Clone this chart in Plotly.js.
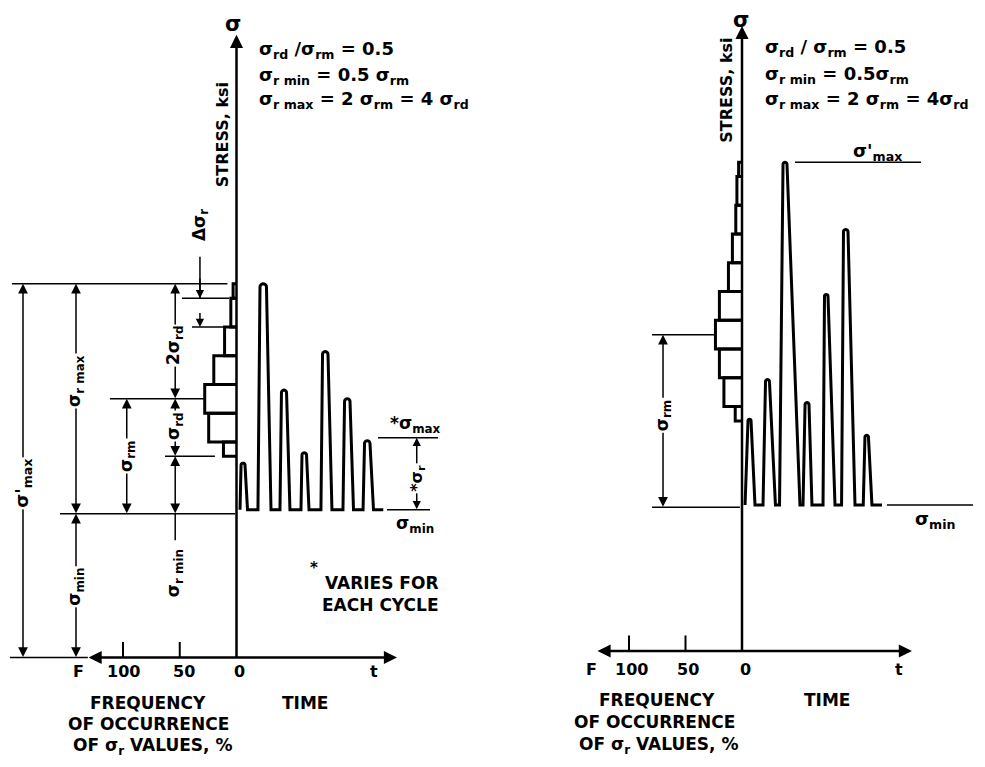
<!DOCTYPE html>
<html><head><meta charset="utf-8">
<script src="https://cdn.plot.ly/plotly-3.0.1.min.js"></script>
<style>html,body{margin:0;padding:0;background:#fff;} #chart{width:985px;height:767px;}</style>
</head><body><div id="chart"></div>
<script>
// ---------------- data (stress in ksi-like units, frequency in %, time arbitrary) ----------------
const sigmaMin = 2.5;
// Left diagram: σrd/σrm = 0.5
const leftSigmaRm = 2.0;
const leftSigmaRd = 1.0;
const leftBinLo = [1.00, 1.25, 1.75, 2.25, 2.75, 3.25, 3.75];
const leftBinHi = [1.25, 1.75, 2.25, 2.75, 3.25, 3.75, 4.00];
const leftFreq  = [11.5, 24.5, 28, 20, 10.5, 5, 3];
const leftCycleRise = [3.1, 18.9, 38.3, 56.8, 74.4, 93.8, 111.5];
const leftCycleTopL = [4.0, 20.7, 39.6, 57.7, 75.8, 95.2, 112.8];
const leftCycleTopR = [7.5, 26.4, 44.1, 61.7, 80.6, 100.0, 117.6];
const leftCycleFall = [9.7, 30.4, 47.1, 63.9, 84.1, 103.1, 120.7];
const leftCyclePeak = [3.38, 6.5, 4.65, 3.56, 5.32, 4.50, 3.77];
const leftBase = 2.57;
const leftEnd = 129.3;
// Right diagram
const rightSigmaRm = 3.0;
const rightSigmaRd = 1.5;
const rightBinLo = [1.50, 1.75, 2.25, 2.75, 3.25, 3.75, 4.25, 4.75, 5.25, 5.75];
const rightBinHi = [1.75, 2.25, 2.75, 3.25, 3.75, 4.25, 4.75, 5.25, 5.75, 6.00];
const rightFreq  = [6, 16, 20, 23.5, 20, 12, 8.5, 5.5, 4.5, 3];
const rightCycleRise = [2.7, 18.6, 33.2, 54.0, 71.7, 88.1, 107.3];
const rightCycleTopL = [5.3, 20.8, 36.3, 55.8, 73.0, 89.8, 108.8];
const rightCycleTopR = [8.0, 24.3, 39.8, 59.3, 76.1, 93.8, 111.9];
const rightCycleFall = [11.5, 29.6, 51.3, 61.9, 82.3, 100.0, 115.0];
const rightCyclePeak = [4.03, 4.72, 8.5, 4.32, 6.20, 7.33, 3.75];
const rightBase = 2.54;
const rightEnd = 123.9;
const freqTickValues = [100, 50];
const freqTickLabels = ['100', '50'];

// ---------------- layout geometry ----------------
const W = 985, H = 767;
const LX = [-208.37, 225.55], LY = [-1.9043, 11.4348];
const RX = [-220.80, 215.04], RY = [-2.0174, 11.3217];
const lPxX = (W*0.5)/(LX[1]-LX[0]), lPxY = H/(LY[1]-LY[0]);
const rPxX = (W*0.5)/(RX[1]-RX[0]), rPxY = H/(RY[1]-RY[0]);
const FONT = 'DejaVu Sans';

function histogram(lo, hi, f, base, xa, ya) {
  const xs = [], ys = [];
  for (let i = 0; i < f.length; i++) {
    xs.push(0, -f[i], -f[i], 0, null);
    ys.push(base+lo[i], base+lo[i], base+hi[i], base+hi[i], null);
  }
  return {x: xs, y: ys, xaxis: xa, yaxis: ya, mode: 'lines', line: {color: '#000', width: 3}, hoverinfo: 'skip'};
}
function waveform(rise, tl, tr, fall, peak, base, end, pxX, pxY, xa, ya) {
  const xs = [rise[0]], ys = [base];
  for (let i = 0; i < rise.length; i++) {
    xs.push(rise[i]); ys.push(base);
    const rx = (tr[i]-tl[i])/2, cx = (tl[i]+tr[i])/2, ry = rx*pxX/pxY;
    for (let k = 0; k <= 10; k++) {
      const a = Math.PI - Math.PI*k/10;
      xs.push(cx + rx*Math.cos(a)); ys.push(peak[i] - ry + ry*Math.sin(a));
    }
    xs.push(fall[i]); ys.push(base);
  }
  xs.push(end); ys.push(base);
  return {x: xs, y: ys, xaxis: xa, yaxis: ya, mode: 'lines', line: {color: '#000', width: 3, simplify: false}, hoverinfo: 'skip'};
}
function arrow(xr, yr, x0, y0, x1, y1, both, w, s) {
  return {xref: xr, yref: yr, axref: xr, ayref: yr, x: x1, y: y1, ax: x0, ay: y0, text: '',
    showarrow: true, arrowhead: 2, startarrowhead: 2, arrowsize: s || 1.3, startarrowsize: s || 1.3,
    arrowwidth: w || 1.5, arrowcolor: '#000', arrowside: both ? 'end+start' : 'end',
    standoff: 0, startstandoff: 0, borderpad: 0};
}
function label(xr, yr, x, y, text, size, angle, bg, xanchor) {
  return {xref: xr, yref: yr, x: x, y: y, text: text, showarrow: false,
    font: {family: FONT, size: size || 17, color: '#000', weight: 700},
    textangle: angle || 0, bgcolor: bg ? '#fff' : 'rgba(0,0,0,0)', borderpad: 1,
    xanchor: xanchor || 'center', yanchor: 'middle'};
}
function hline(xr, yr, x0, x1, y, w) {
  return {type: 'line', xref: xr, yref: yr, x0: x0, x1: x1, y0: y, y1: y, line: {color: '#000', width: w || 1.5}};
}
function vline(xr, yr, x, y0, y1, w) {
  return {type: 'line', xref: xr, yref: yr, x0: x, x1: x, y0: y0, y1: y1, line: {color: '#000', width: w || 1.5}};
}

const traces = [
  histogram(leftBinLo, leftBinHi, leftFreq, sigmaMin, 'x', 'y'),
  waveform(leftCycleRise, leftCycleTopL, leftCycleTopR, leftCycleFall, leftCyclePeak, leftBase, leftEnd, lPxX, lPxY, 'x', 'y'),
  histogram(rightBinLo, rightBinHi, rightFreq, sigmaMin, 'x2', 'y2'),
  waveform(rightCycleRise, rightCycleTopL, rightCycleTopR, rightCycleFall, rightCyclePeak, rightBase, rightEnd, rPxX, rPxY, 'x2', 'y2')
];

// derived levels
const lRmin = 0.5*leftSigmaRm, lRmax = 2*leftSigmaRm, lMaxP = sigmaMin + lRmax;
const rRmin = 0.5*rightSigmaRm, rRmax = 2*rightSigmaRm, rMaxP = sigmaMin + rRmax;
const lDeltaTop = sigmaMin + leftBinHi[leftBinHi.length-2];
const lDeltaBot = sigmaMin + leftBinLo[leftBinLo.length-2];

const shapes = [
  // left extension lines
  hline('x','y', -197.8, -8, lMaxP),
  hline('x','y', -155.5, -1.3, sigmaMin),
  hline('x','y', -199.6, -131, 0),
  hline('x','y', -111.5, -27, sigmaMin + leftSigmaRm),
  hline('x','y', -63, -19, sigmaMin + lRmin),
  hline('x','y', -48, -6.6, lDeltaTop),
  hline('x','y', -39.2, -10, lDeltaBot),
  vline('x','y', -54, sigmaMin, 2.04),
  vline('x','y', -32.2, 6.97, lDeltaTop),
  hline('x','y', 124.7, 177.5, 3.82),
  hline('x','y', 132.6, 170.5, leftBase),
  // left axis ticks
  ...freqTickValues.map(v => vline('x','y', -v, 0, 0.27, 2)),
  // right extension lines
  hline('x2','y2', 46.9, 158.4, rMaxP),
  hline('x2','y2', 128.3, 204.4, rightBase),
  hline('x2','y2', -79.6, -24.8, sigmaMin + rightSigmaRm),
  hline('x2','y2', -79.6, -1.8, sigmaMin),
  ...freqTickValues.map(v => vline('x2','y2', -v, 0, 0.27, 2))
];

const annotations = [
  // main axes, left
  arrow('x','y', 0, 0, 0, 10.83, false, 2.5, 1.05),
  arrow('x','y', -130.8, 0, 141.4, 0, true, 2.5, 1.05),
  // main axes, right
  arrow('x2','y2', 0, 0, 0, 10.87, false, 2.5, 1.05),
  arrow('x2','y2', -128.3, 0, 150.4, 0, true, 2.5, 1.05),
  // left dimension arrows
  arrow('x','y', -188.1, 0, -188.1, lMaxP, true),
  arrow('x','y', -141.4, sigmaMin, -141.4, lMaxP, true),
  arrow('x','y', -141.4, 0, -141.4, sigmaMin, true),
  arrow('x','y', -96.7, sigmaMin, -96.7, sigmaMin + leftSigmaRm, true),
  arrow('x','y', -54, sigmaMin + leftSigmaRm, -54, lMaxP, true),
  arrow('x','y', -54, sigmaMin + lRmin, -54, sigmaMin + leftSigmaRm, true),
  arrow('x','y', -54, sigmaMin, -54, sigmaMin + lRmin, true),
  arrow('x','y', -32.2, 6.6, -32.2, lDeltaTop, false, 1.5, 1.1),
  arrow('x','y', -32.2, 6.0, -32.2, lDeltaBot, false, 1.5, 1.1),
  arrow('x','y', 158.8, leftBase, 158.8, 3.82, true, 1.5, 1.1),
  // right dimension arrow
  arrow('x2','y2', -69.9, sigmaMin, -69.9, sigmaMin + rightSigmaRm, true),

  // left labels
  label('x','y', -3.1, 11.02, 'σ', 21),
  label('x','y', -12.8, 9.10, 'STRESS, ksi', 16, -90),
  label('x','y', 18.1, 10.57, 'σ<sub>rd</sub> /σ<sub>rm</sub> = 0.5', 18, 0, false, 'left'),
  label('x','y', 18.1, 10.12, 'σ<sub>r min</sub> = 0.5 σ<sub>rm</sub>', 18, 0, false, 'left'),
  label('x','y', 18.1, 9.70, 'σ<sub>r max</sub> = 2 σ<sub>rm</sub> = 4 σ<sub>rd</sub>', 18, 0, false, 'left'),
  label('x','y', -188.1, 3.02, "σ'<sub>max</sub>", 18, -90, true),
  label('x','y', -141.4, 4.81, 'σ<sub>r max</sub>', 17, -90, true),
  label('x','y', -141.4, 1.23, 'σ<sub>min</sub>', 17, -90, true),
  label('x','y', -96.7, 3.50, 'σ<sub>rm</sub>', 17, -90, true),
  label('x','y', -54, 5.42, '2σ<sub>rd</sub>', 17, -90, true),
  label('x','y', -54, 4.03, 'σ<sub>rd</sub>', 17, -90, true),
  label('x','y', -54, 1.47, 'σ<sub>r min</sub>', 17, -90, true),
  label('x','y', -32.2, 7.52, 'Δσ<sub>r</sub>', 17, -90, true),
  label('x','y', 158.8, 3.12, '*σ<sub>r</sub>', 16, -90, true),
  label('x','y', 157.7, 4.06, '*σ<sub>max</sub>', 17),
  label('x','y', 157.7, 2.32, 'σ<sub>min</sub>', 17),
  label('x','y', 68.3, 1.55, '*', 15),
  label('x','y', 76.2, 1.30, 'VARIES FOR', 17, 0, false, 'left'),
  label('x','y', 73.6, 0.92, 'EACH CYCLE', 17, 0, false, 'left'),
  label('x','y', -139.6, -0.235, 'F', 16),
  ...freqTickValues.map((v, i) => label('x','y', -v + (v === 50 ? 3.7 : 0), -0.235, freqTickLabels[i], 16)),
  label('x','y', 2.2, -0.235, '0', 16),
  label('x','y', 121.1, -0.235, 't', 16),
  label('x','y', -78, -0.79, 'FREQUENCY', 17),
  label('x','y', -77.1, -1.165, 'OF OCCURRENCE', 17),
  label('x','y', -74.4, -1.54, 'OF σ<sub>r</sub> VALUES, %', 17),
  label('x','y', 60.4, -0.79, 'TIME', 17),

  // right labels
  label('x2','y2', -0.9, 10.97, 'σ', 21),
  label('x2','y2', -13.3, 9.76, 'STRESS, ksi', 16, -90),
  label('x2','y2', 18.6, 10.49, 'σ<sub>rd</sub> / σ<sub>rm</sub> = 0.5', 18, 0, false, 'left'),
  label('x2','y2', 18.6, 10.02, 'σ<sub>r min</sub> = 0.5σ<sub>rm</sub>', 18, 0, false, 'left'),
  label('x2','y2', 18.6, 9.58, 'σ<sub>r max</sub> = 2 σ<sub>rm</sub> = 4σ<sub>rd</sub>', 18, 0, false, 'left'),
  label('x2','y2', 119.5, 8.68, "σ'<sub>max</sub>", 18),
  label('x2','y2', 170.8, 2.28, 'σ<sub>min</sub>', 18),
  label('x2','y2', -69.9, 4.10, 'σ<sub>rm</sub>', 17, -90, true),
  label('x2','y2', -133.6, -0.313, 'F', 16),
  ...freqTickValues.map((v, i) => label('x2','y2', -v + 2, -0.313, freqTickLabels[i], 16)),
  label('x2','y2', 3.5, -0.313, '0', 16),
  label('x2','y2', 138.9, -0.313, 't', 16),
  label('x2','y2', -75.2, -0.852, 'FREQUENCY', 17),
  label('x2','y2', -77, -1.235, 'OF OCCURRENCE', 17),
  label('x2','y2', -73.5, -1.635, 'OF σ<sub>r</sub> VALUES, %', 17),
  label('x2','y2', 75.2, -0.852, 'TIME', 17)
];

const axisCommon = {visible: false, showgrid: false, zeroline: false, fixedrange: true};
const layout = {
  width: W, height: H, margin: {l: 0, r: 0, t: 0, b: 0, pad: 0},
  paper_bgcolor: '#fff', plot_bgcolor: '#fff', showlegend: false,
  xaxis: Object.assign({domain: [0, 0.5], range: LX}, axisCommon),
  yaxis: Object.assign({domain: [0, 1], range: LY}, axisCommon),
  xaxis2: Object.assign({domain: [0.5, 1], range: RX, anchor: 'y2'}, axisCommon),
  yaxis2: Object.assign({domain: [0, 1], range: RY, anchor: 'x2'}, axisCommon),
  shapes: shapes, annotations: annotations
};
Plotly.newPlot('chart', traces, layout, {staticPlot: true, displayModeBar: false});
</script></body></html>
